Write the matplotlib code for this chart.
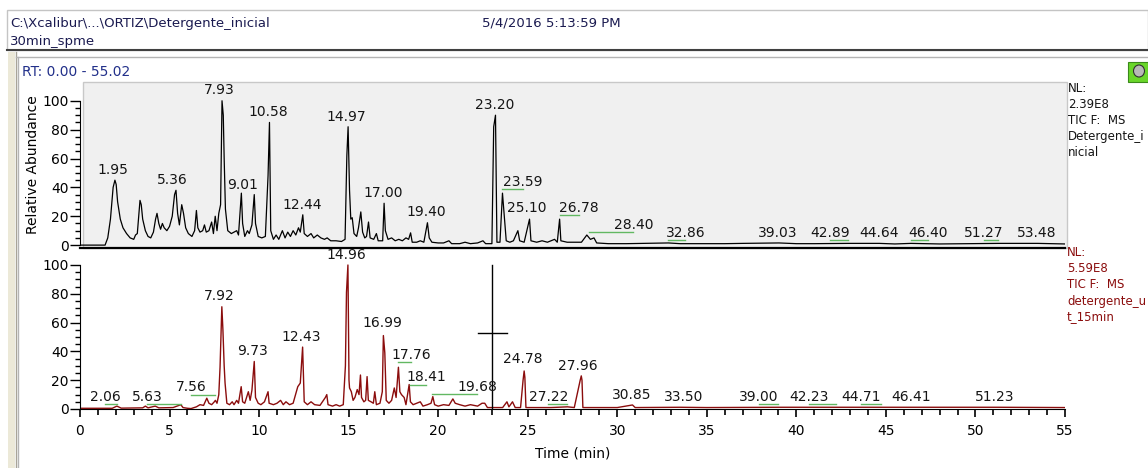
# -*- coding: utf-8 -*-
'''
Cromatogramas TIC (Detergente inicial / detergente_ut_15min)
'''
import matplotlib
matplotlib.use('Agg')
from matplotlib import pyplot as plt
from matplotlib.patches import Rectangle, Ellipse

ANCHO, ALTO = 1148, 468

# ----------------------------------------------------------------------------
# Traza superior (negra): tiempo (min) y abundancia relativa (%)
tiempos_sup = [0.0, 1.40, 1.55, 1.70, 1.85, 1.95, 2.02, 2.10, 2.25, 2.40, 2.60, 2.80,
               3.00, 3.10, 3.20, 3.28, 3.35, 3.42, 3.50, 3.65, 3.80, 3.95, 4.10, 4.22,
               4.30, 4.40, 4.50, 4.60, 4.70, 4.85, 5.00, 5.15, 5.28, 5.36, 5.45, 5.55,
               5.68, 5.78, 5.90, 6.05, 6.25, 6.40, 6.50, 6.58, 6.70, 6.85, 6.95, 7.05,
               7.20, 7.35, 7.45, 7.55, 7.65, 7.75, 7.85, 7.93, 8.00, 8.05, 8.12, 8.25,
               8.45, 8.60, 8.75, 8.85, 9.01, 9.08, 9.20, 9.35, 9.45, 9.60, 9.73, 9.80,
               9.95, 10.15, 10.35, 10.50, 10.58, 10.65, 10.80, 10.95, 11.10, 11.30,
               11.45, 11.60, 11.75, 11.90, 12.05, 12.20, 12.30, 12.44, 12.52, 12.70,
               12.90, 13.05, 13.25, 13.45, 13.65, 13.80, 14.00, 14.30, 14.60, 14.80,
               14.90, 14.97, 15.05, 15.12, 15.20, 15.30, 15.45, 15.55, 15.68, 15.78,
               15.90, 16.00, 16.11, 16.20, 16.40, 16.55, 16.65, 16.90, 16.98, 17.05,
               17.20, 17.40, 17.60, 17.80, 18.00, 18.20, 18.35, 18.46, 18.55, 18.80,
               19.00, 19.20, 19.40, 19.50, 19.65, 20.00, 20.30, 20.60, 20.75, 21.20,
               21.50, 21.80, 22.20, 22.50, 22.65, 23.00, 23.10, 23.20, 23.28, 23.45,
               23.59, 23.70, 23.80, 24.00, 24.20, 24.45, 24.55, 24.80, 25.10, 25.18,
               25.50, 25.80, 26.10, 26.50, 26.65, 26.78, 26.85, 27.20, 27.60, 28.00,
               28.30, 28.50, 28.70, 28.85, 29.50, 30.50, 31.50, 32.86, 33.50, 35.00,
               36.00, 37.00, 39.03, 40.00, 41.00, 42.89, 44.64, 45.50, 46.40, 48.00,
               51.27, 53.48, 55.00]
abund_sup = [0, 0, 5, 18, 40, 45, 42, 30, 18, 12, 8, 5,
             4, 7, 8, 20, 31, 28, 18, 10, 6, 5, 9, 18,
             22, 15, 11, 15, 12, 10, 13, 20, 35, 38, 22, 14,
             28, 22, 12, 8, 6, 10, 24, 12, 9, 10, 14, 9,
             10, 16, 8, 20, 10, 22, 28, 100, 90, 60, 25, 10,
             8, 9, 10, 7, 36, 15, 6, 10, 8, 14, 35, 15,
             6, 5, 6, 48, 85, 10, 4, 7, 4, 10,
             5, 9, 6, 10, 7, 12, 9, 21, 8, 6,
             8, 5, 7, 5, 4, 5, 3, 3, 2.5, 4,
             62, 82, 38, 18, 19, 8, 6, 12, 23, 9,
             5, 6, 16, 5, 4, 8, 3, 3, 29, 10,
             4, 5, 3, 4, 3, 5, 4, 8.5, 2, 2,
             3, 2, 15.5, 5, 2, 1.5, 1.5, 3, 1, 1,
             2, 1, 1.5, 3, 1, 1, 82, 90, 2, 2,
             36, 19, 3, 2, 3, 10, 3, 2, 18, 3,
             2, 3, 2, 4, 2, 18, 3, 2, 2, 2,
             7, 4, 5, 1.5, 1, 1, 1.2, 1.5, 1, 1,
             1, 1.2, 1.5, 1, 1, 1.2, 1.2, 0.8, 1.2, 0.8,
             1.2, 1.2, 0.8]

# Traza inferior (granate)
tiempos_inf = [0.0, 1.80, 2.06, 2.30, 3.50, 3.65, 3.80, 4.20, 4.40, 5.20, 5.63, 5.75,
               6.00, 6.20, 6.50, 6.70, 6.90, 7.08, 7.20, 7.35, 7.50, 7.56, 7.65, 7.75,
               7.82, 7.92, 7.98, 8.05, 8.10, 8.20, 8.35, 8.50, 8.60, 8.75, 8.85, 9.00,
               9.08, 9.20, 9.30, 9.40, 9.50, 9.60, 9.73, 9.80, 9.95, 10.10, 10.30,
               10.50, 10.56, 10.80, 11.00, 11.20, 11.35, 11.50, 11.70, 11.90, 12.16,
               12.30, 12.43, 12.52, 12.70, 12.90, 13.10, 13.40, 13.70, 13.78, 13.85,
               14.10, 14.30, 14.50, 14.70, 14.82, 14.88, 14.96, 15.02, 15.05, 15.15,
               15.25, 15.35, 15.48, 15.58, 15.66, 15.72, 15.85, 15.95, 16.03, 16.10,
               16.25, 16.38, 16.46, 16.55, 16.75, 16.88, 16.94, 17.02, 17.10, 17.25,
               17.40, 17.55, 17.65, 17.78, 17.86, 17.95, 18.10, 18.20, 18.38, 18.45,
               18.60, 18.80, 19.00, 19.15, 19.40, 19.60, 19.70, 19.80, 20.00, 20.30,
               20.60, 20.82, 20.95, 21.20, 21.50, 21.80, 22.20, 22.45, 22.60, 22.75,
               23.20, 23.60, 23.84, 23.95, 24.15, 24.30, 24.60, 24.74, 24.80, 24.84,
               24.90, 25.50, 26.30, 27.22, 27.60, 27.93, 27.99, 28.03, 28.08, 29.00,
               30.00, 30.85, 31.00, 33.50, 35.00, 39.00, 42.23, 44.71, 46.41, 51.23,
               55.00]
abund_inf = [0.5, 0.5, 2, 0.6, 0.8, 2, 0.8, 2, 0.8, 1, 3, 1,
             0.5, 0.3, 1.5, 3, 2.5, 7.5, 4, 3, 5, 6, 4, 10,
             29, 71, 55, 30, 18, 4, 3, 5, 3, 6, 4, 15.5,
             5, 4, 8, 12, 6, 13, 33, 8, 4, 3, 5,
             12, 4, 3, 4, 6, 3, 5, 3, 4, 15.5,
             18, 43, 5, 3, 5, 3, 2.5, 8, 10, 3,
             2, 3, 2, 3, 30, 81, 100, 20, 14.6, 12,
             6, 8, 13.5, 10, 23.6, 8, 5, 6, 22.5, 6,
             5, 4, 12, 3, 4, 12, 51, 39, 6, 4,
             6, 14.6, 8, 29, 12, 10, 8, 3, 17, 5,
             3, 4, 5, 2, 3, 4, 8.6, 3, 2, 3,
             2.5, 7, 4, 3, 2, 3, 2, 4, 4, 1,
             1, 1, 5, 1.5, 5, 1, 1, 20, 26.4, 22,
             1, 1, 1, 1.5, 1, 20, 23, 20, 1, 1,
             1, 2.8, 1, 1.2, 1, 1.2, 1.2, 1.2, 1.2, 1.2,
             1]

# Picos etiquetados (tiempo de retencion) y posicion del rotulo (min, %)
rt_sup = [1.95, 5.36, 7.93, 9.01, 10.58, 12.44, 14.97, 17.00, 19.40, 23.20, 23.59,
          25.10, 26.78, 28.40, 32.86, 39.03, 42.89, 44.64, 46.40, 51.27, 53.48]
rotulo_sup = [(1.84, 52), (5.14, 45), (7.77, 107.6), (9.1, 41.7), (10.5, 92),
              (12.4, 27.8), (14.86, 89), (16.93, 36), (19.33, 23), (23.13, 97),
              (24.75, 43.8), (24.97, 25.7), (27.88, 25.7), (30.9, 13.9), (33.8, 8.3),
              (38.94, 8.3), (41.9, 8.3), (44.64, 8.3), (47.37, 8.3), (50.45, 8.3),
              (53.4, 8.3)]

rt_inf = [2.06, 5.63, 7.56, 7.92, 9.73, 12.43, 14.96, 16.99, 17.76, 18.41, 19.68,
          24.78, 27.22, 27.96, 30.85, 33.50, 39.00, 42.23, 44.71, 46.41, 51.23]
rotulo_inf = [(1.4, 8.3), (3.74, 8.3), (6.2, 15), (7.77, 78.5), (9.64, 40),
              (12.35, 50), (14.86, 107), (16.87, 59.7), (18.5, 37.5), (19.33, 22),
              (22.18, 15.3), (24.7, 34.7), (26.15, 8.3), (27.8, 30), (30.8, 9.7),
              (33.7, 8.3), (37.9, 8.3), (40.7, 8.3), (43.6, 8.3), (46.4, 8.3),
              (51.1, 8.3)]

# Cursor
cursor_rt = 23.0
cursor_abund = 52.8

info_sup = ['NL:', '2.39E8', 'TIC F:  MS', 'Detergente_i', 'nicial']
info_inf = ['NL:', '5.59E8', 'TIC F:  MS', 'detergente_u', 't_15min']

GRANATE = '#8b0d0d'
VERDE = '#62b862'


def px(x, y):
    ''' Convierte pixeles (origen arriba-izquierda) a fraccion de figura '''
    return x / ANCHO, 1 - y / ALTO


def rotula(ax, rts, rotulos, color_linea):
    for rt, (xr, yr) in zip(rts, rotulos):
        ax.text(xr, yr, '%.2f' % rt, ha='center', va='center', fontsize=10,
                color='#151515', zorder=5)
        # linea de enlace cuando el rotulo esta desplazado del pico
        if abs(xr - rt) > 0.4:
            ax.plot([rt, xr], [yr - 5, yr - 5], color=color_linea, lw=1.0, zorder=4)


def rect(x0, y0, x1, y1, **kw):
    ''' Rectangulo de fondo en pixeles de figura, por debajo de los ejes '''
    r = Rectangle(px(x0, y1), (x1 - x0) / ANCHO, (y1 - y0) / ALTO,
                  transform=fig.transFigure, zorder=-1, **kw)
    fig.patches.append(r)


fig = plt.figure(figsize=(ANCHO / 100, ALTO / 100), dpi=100)

# Marco de la ventana
rect(7, 10, 1148, 50, facecolor='white', edgecolor='#c4c4c4', lw=1)
fig.add_artist(plt.Line2D([7 / ANCHO, 1], [1 - 50 / ALTO] * 2, color='#404040', lw=1.5))
rect(8, 52, 15, 468, facecolor='#ece9d8', edgecolor='none')
fig.add_artist(plt.Line2D([15.5 / ANCHO] * 2, [0, 1 - 52 / ALTO], color='#a8a498', lw=1))
fig.add_artist(plt.Line2D([16 / ANCHO, 1], [1 - 57 / ALTO] * 2, color='#b4b4b4', lw=1))
fig.add_artist(plt.Line2D([18 / ANCHO] * 2, [0, 1 - 57 / ALTO], color='#b4b4b4', lw=1))

# Cabecera
fig.text(*px(10, 23), 'C:\\Xcalibur\\...\\ORTIZ\\Detergente_inicial', fontsize=9.5,
         color='#1a1a50', va='center')
fig.text(*px(482, 23), '5/4/2016 5:13:59 PM', fontsize=9.5, color='#1a1a50', va='center')
fig.text(*px(10, 42), '30min_spme', fontsize=9.5, color='#1a1a50', va='center')
fig.text(*px(22, 72), 'RT: 0.00 - 55.02', fontsize=10, color='#22308a', va='center')

# Icono verde
rect(1128, 62, 1148, 82, facecolor='#6ad62a', edgecolor='#3a8a1a', lw=0.8)
fig.patches.append(Ellipse(px(1139, 71), 11 / ANCHO, 12 / ALTO, transform=fig.transFigure,
                           facecolor='#b8b8b8', edgecolor='#303030', lw=0.8))

# Panel gris de la traza superior
rect(83, 82, 1067, 248, facecolor='#f0f0f0', edgecolor='#c8c8c8', lw=1)

izq, ancho = 80 / ANCHO, 985 / ANCHO
ax1 = fig.add_axes([izq, 1 - 248 / ALTO, ancho, 166 / ALTO])
ax2 = fig.add_axes([izq, 1 - 409 / ALTO, ancho, (409 - 250.6) / ALTO])
for ax in (ax1, ax2):
    ax.set_facecolor('none')
    ax.set_xlim(0, 55)
    ax.spines['top'].set_visible(False)
    ax.spines['right'].set_visible(False)
    ax.spines['left'].set_bounds(0, 100)
    ax.set_yticks(range(0, 101, 20))
    ax.set_yticks(range(0, 101, 5), minor=True)
    ax.tick_params(axis='y', which='major', length=7, width=1, pad=1, labelsize=10)
    ax.tick_params(axis='y', which='minor', length=3.5, width=1)

ax1.set_ylim(-2, 113)
ax1.spines['bottom'].set_linewidth(1.6)
ax1.tick_params(axis='x', which='both', bottom=False, labelbottom=False)
ax1.plot(tiempos_sup, abund_sup, color='black', lw=0.9)
ax1.set_ylabel('Relative Abundance', fontsize=10, labelpad=2)
rotula(ax1, rt_sup, rotulo_sup, VERDE)

ax2.set_ylim(0, 110)
ax2.plot(tiempos_inf, abund_inf, color=GRANATE, lw=1.0)
ax2.set_xticks(range(0, 56, 5))
ax2.set_xticks(range(0, 56, 1), minor=True)
ax2.tick_params(axis='x', which='major', length=6, width=1.2, pad=5, labelsize=10)
ax2.tick_params(axis='x', which='minor', length=4, width=1.2)
ax2.set_xlabel('Time (min)', fontsize=10, labelpad=6)
rotula(ax2, rt_inf, rotulo_inf, VERDE)

# Cursor en cruz
ax2.plot([cursor_rt, cursor_rt], [0, 100], color='black', lw=1)
ax2.plot([cursor_rt - 0.8, cursor_rt + 0.85], [cursor_abund, cursor_abund], color='black', lw=1)

# Informacion de cada traza
for i, linea in enumerate(info_sup):
    fig.text(*px(1068, 88 + i * 16), linea, fontsize=8.5, color='#151515', va='center')
for i, linea in enumerate(info_inf):
    fig.text(*px(1067, 253 + i * 16), linea, fontsize=8.5, color=GRANATE, va='center')

fig.savefig('out.png', dpi=100)
